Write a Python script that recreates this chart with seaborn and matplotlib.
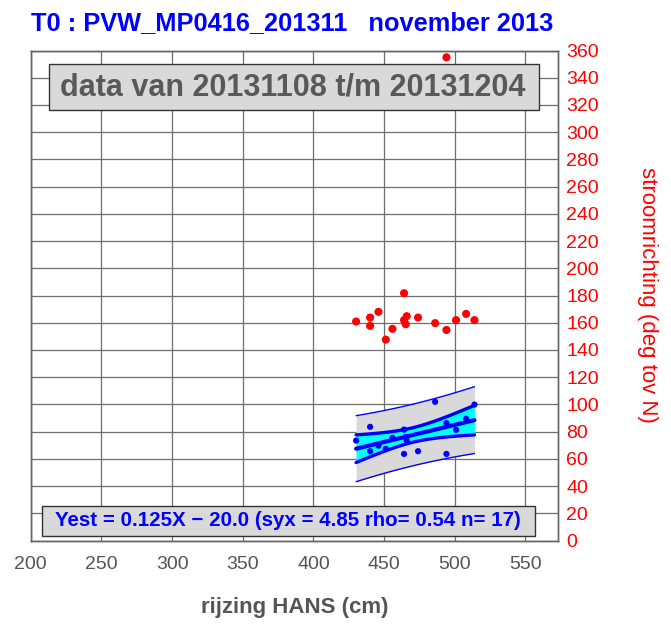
import matplotlib
matplotlib.use("Agg")
import matplotlib.pyplot as plt
from matplotlib.patches import Rectangle
import numpy as np
import seaborn as sns

# rijzing HANS (cm), shared by both series
hans = [430.2, 440.1, 440.1, 446.0, 451.2, 455.9, 464.1, 464.1, 465.3,
        466.0, 474.0, 486.1, 494.1, 494.1, 500.9, 508.0, 513.9]
# stroomrichting (deg tov N), right axis
richting = [160.9, 163.8, 157.7, 168.0, 147.6, 155.5, 181.7, 161.9, 158.9,
            164.8, 163.8, 159.7, 154.7, 355.0, 161.9, 166.5, 161.9]
# blue series on the hidden left axis (0..180)
blauw = [36.7, 41.75, 32.8, 34.85, 33.65, 37.7, 40.75, 31.8, 38.0,
         36.75, 32.8, 50.95, 31.8, 43.1, 40.65, 44.7, 49.95]

x_ticks = [200, 250, 300, 350, 400, 450, 500, 550]
y_ticks = list(range(0, 361, 20))

title = "T0 : PVW_MP0416_201311   november 2013"
periode = "data van 20131108 t/m 20131204"
fit_text = "Yest = 0.125X \u2212 20.0 (syx = 4.85 rho= 0.54 n= 17)"

sns.set_theme(style="white")
plt.rcParams["font.family"] = ["Liberation Sans", "DejaVu Sans"]

fig = plt.figure(figsize=(6.71, 6.25), dpi=100)
ax = fig.add_axes([0.0457, 0.1352, 0.7859, 0.7840])
axr = ax.twinx()

# regression of blue series with confidence / prediction bands
x = np.array(hans)
y = np.array(blauw)
n = len(x)
b, a = np.polyfit(x, y, 1)
xs = np.linspace(x.min(), x.max(), 100)
yhat = a + b * xs
s = np.sqrt(np.sum((y - (a + b * x)) ** 2) / (n - 2))
sxx = np.sum((x - x.mean()) ** 2)
t = 2.131
ci = t * s * np.sqrt(1 / n + (xs - x.mean()) ** 2 / sxx)
pi = t * s * np.sqrt(1 + 1 / n + (xs - x.mean()) ** 2 / sxx)

ax.fill_between(xs, yhat - pi, yhat + pi, color="#d9d9d9", lw=0, zorder=2)
ax.fill_between(xs, yhat - ci, yhat + ci, color="#00ffff", lw=0, zorder=3)
for lo_hi, lw in [(yhat - pi, 1.0), (yhat + pi, 1.0), (yhat - ci, 2.4), (yhat + ci, 2.4), (yhat, 3.0)]:
    sns.lineplot(x=xs, y=lo_hi, ax=ax, color="blue", lw=lw, zorder=4,
                 solid_capstyle="round")
sns.scatterplot(x=hans, y=blauw, ax=ax, color="blue", s=20, edgecolor="none", zorder=5)

sns.scatterplot(x=hans, y=richting, ax=axr, color="red", s=34, edgecolor="none", zorder=5)

ax.set_xlim(200, 573)
ax.set_ylim(0, 180)
axr.set_ylim(0, 360)
ax.set_xticks(x_ticks)
ax.set_yticks(np.array(y_ticks) / 2)
axr.set_yticks(y_ticks)

ax.grid(True, color="#6e6e6e", lw=0.9)
ax.set_axisbelow(True)
ax.tick_params(axis="y", left=False, labelleft=False, length=0)
ax.tick_params(axis="x", length=0, pad=11, labelsize=14, labelcolor="#555555")
axr.tick_params(axis="y", length=0, pad=6, labelsize=14, labelcolor="red")
ax.set_xlabel("")
ax.set_ylabel("")
axr.set_ylabel("")
for axis in (ax, axr):
    for sp in axis.spines.values():
        sp.set_color("#666666")
        sp.set_linewidth(1.0)

# period box
axr.add_patch(Rectangle((0.0347, 0.8786), 0.9293, 0.0938, transform=axr.transAxes,
                        facecolor="#d9d9d9", edgecolor="#333333", lw=1, zorder=6))
axr.text(0.497, 0.9255, periode, transform=axr.transAxes, ha="center", va="center",
         fontsize=22, fontweight="bold", color="#595959", zorder=7)

# fit box
axr.add_patch(Rectangle((0.0214, 0.0102), 0.935, 0.0602, transform=axr.transAxes,
                        facecolor="#d9d9d9", edgecolor="#333333", lw=1, zorder=6))
axr.text(0.488, 0.0403, fit_text, transform=axr.transAxes, ha="center", va="center",
         fontsize=14.8, fontweight="bold", color="blue", zorder=7)

fig.text(0.0457, 0.963, title, ha="left", va="center", fontsize=18.3,
         fontweight="bold", color="blue")
fig.text(0.4396, 0.0288, "rijzing HANS (cm)", ha="center", va="center",
         fontsize=16, fontweight="bold", color="#555555")
fig.text(0.9657, 0.528, "stroomrichting (deg tov N)", ha="center", va="center",
         rotation=270, fontsize=16, color="red")

fig.savefig("out.png", dpi=100)
